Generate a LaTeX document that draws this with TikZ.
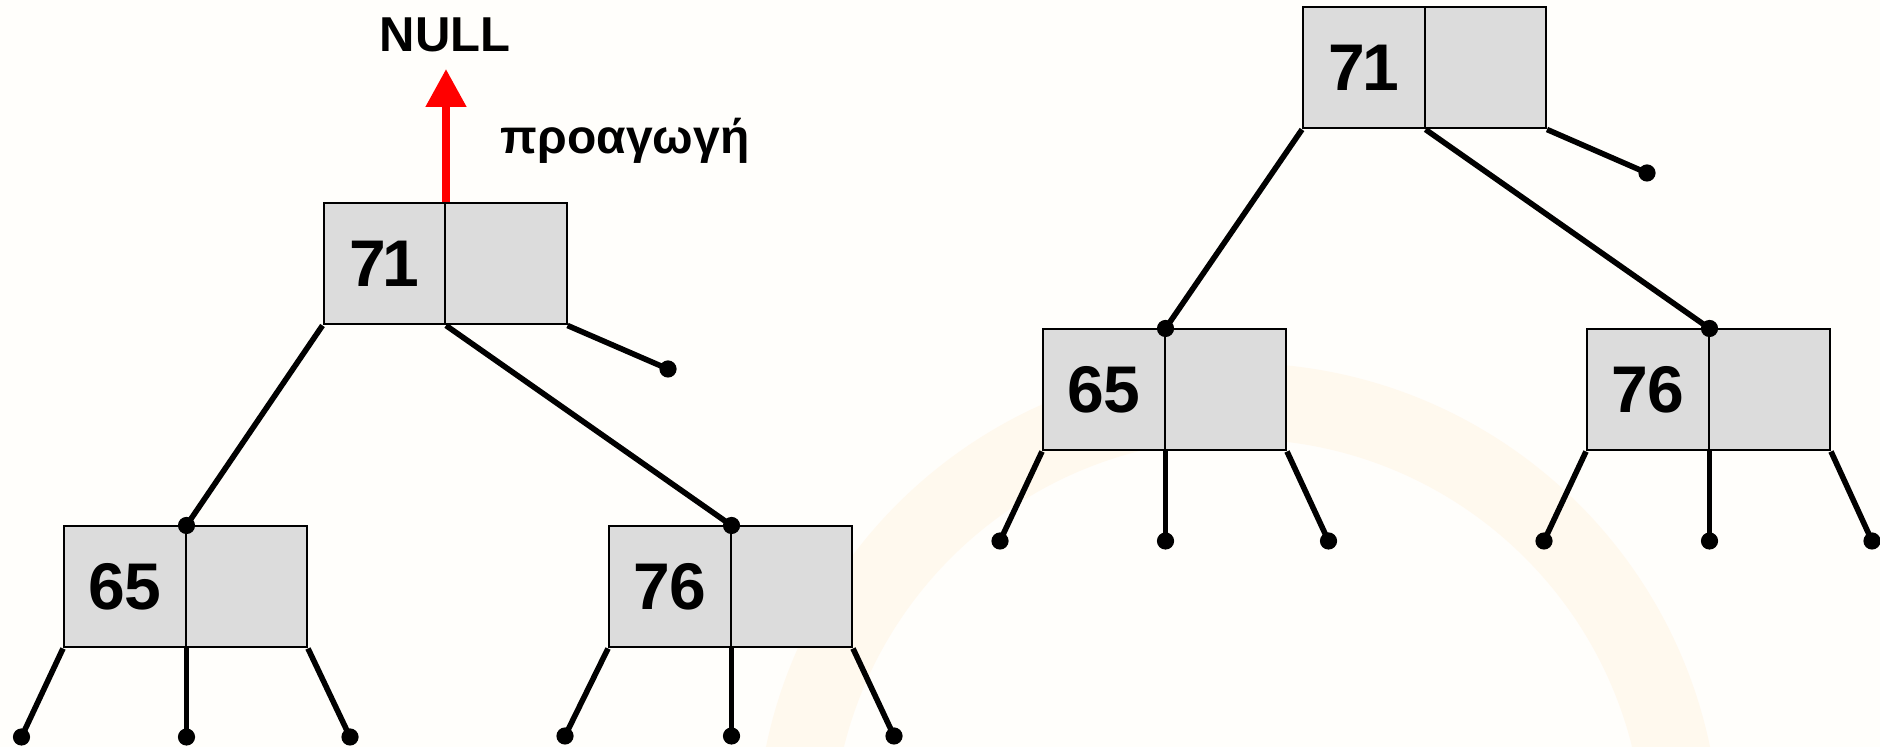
\documentclass[tikz,border=0pt]{standalone}
\usepackage{fontspec}
\setmainfont{Liberation Sans}
\usetikzlibrary{arrows.meta}
\definecolor{bgc}{RGB}{255,254,251}
\definecolor{arcc}{RGB}{255,249,238}
\definecolor{cellc}{RGB}{220,220,220}
\tikzset{
  cell/.style={draw=black, fill=cellc, line width=1pt, minimum width=60.75pt,
    minimum height=60.5pt, inner sep=0pt, anchor=north west,
    font=\fontsize{33}{36}\selectfont\bfseries},
  link/.style={line width=2.8pt, black},
  dotc/.style={circle, fill=black, inner sep=0pt, minimum size=8.6pt},
}
\begin{document}
\begin{tikzpicture}[x=0.5pt,y=-0.5pt]
\useasboundingbox (0,0) rectangle (1880,747);
\fill[bgc] (0,0) rectangle (1880,747);
\begin{scope}
\clip (0,0) rectangle (1880,747);
\draw[arcc, line width=38pt] (1238,845) circle[radius=222pt];
\end{scope}

% left tree
\node[cell] (L71a) at (322.5,202.5) {7\kern-1.5pt1};
\node[cell] (L71b) at (444,202.5) {};
\node[cell] (L65a) at (63,525.5) {65};
\node[cell] (L65b) at (184.5,525.5) {};
\node[cell] (L76a) at (608,525.5) {76};
\node[cell] (L76b) at (729.5,525.5) {};

\node[font=\fontsize{24.5}{28}\selectfont\bfseries] (null) at (445,34.5) {NULL};
\node[font=\fontsize{24}{28}\selectfont\bfseries, anchor=base] (prom) at (625,154) {προαγωγή};
\coordinate (tip) at (L71a.north east |- 0,69);
\draw[red, line width=4pt, -{Triangle[width=19.5pt,length=19pt]}] (L71a.north east) -- (tip);

\draw[link] (L71a.south west) -- (L65a.north east) node[dotc]{};
\draw[link] (L71a.south east) -- (L76a.north east) node[dotc]{};
\coordinate (L71p) at (668,369);
\draw[link] (L71b.south east) -- (L71p) node[dotc]{};

\coordinate (L65p1) at (21.5,737);
\coordinate (L65p2) at (L65a.south east |- 0,737);
\coordinate (L65p3) at (350,737);
\draw[link] (L65a.south west) -- (L65p1) node[dotc]{};
\draw[link] (L65a.south east) -- (L65p2) node[dotc]{};
\draw[link] (L65b.south east) -- (L65p3) node[dotc]{};

\coordinate (L76p1) at (565,736);
\coordinate (L76p2) at (L76a.south east |- 0,736);
\coordinate (L76p3) at (894,736);
\draw[link] (L76a.south west) -- (L76p1) node[dotc]{};
\draw[link] (L76a.south east) -- (L76p2) node[dotc]{};
\draw[link] (L76b.south east) -- (L76p3) node[dotc]{};

% right tree
\node[cell] (R71a) at (1302,6.5) {7\kern-1.5pt1};
\node[cell] (R71b) at (1423.5,6.5) {};
\node[cell] (R65a) at (1042,328.5) {65};
\node[cell] (R65b) at (1163.5,328.5) {};
\node[cell] (R76a) at (1586,328.5) {76};
\node[cell] (R76b) at (1707.5,328.5) {};

\draw[link] (R71a.south west) -- (R65a.north east) node[dotc]{};
\draw[link] (R71a.south east) -- (R76a.north east) node[dotc]{};
\coordinate (R71p) at (1647,173);
\draw[link] (R71b.south east) -- (R71p) node[dotc]{};

\coordinate (R65p1) at (1000,541);
\coordinate (R65p2) at (R65a.south east |- 0,541);
\coordinate (R65p3) at (1328.5,541);
\draw[link] (R65a.south west) -- (R65p1) node[dotc]{};
\draw[link] (R65a.south east) -- (R65p2) node[dotc]{};
\draw[link] (R65b.south east) -- (R65p3) node[dotc]{};

\coordinate (R76p1) at (1544,541);
\coordinate (R76p2) at (R76a.south east |- 0,541);
\coordinate (R76p3) at (1872,541);
\draw[link] (R76a.south west) -- (R76p1) node[dotc]{};
\draw[link] (R76a.south east) -- (R76p2) node[dotc]{};
\draw[link] (R76b.south east) -- (R76p3) node[dotc]{};
\end{tikzpicture}
\end{document}
